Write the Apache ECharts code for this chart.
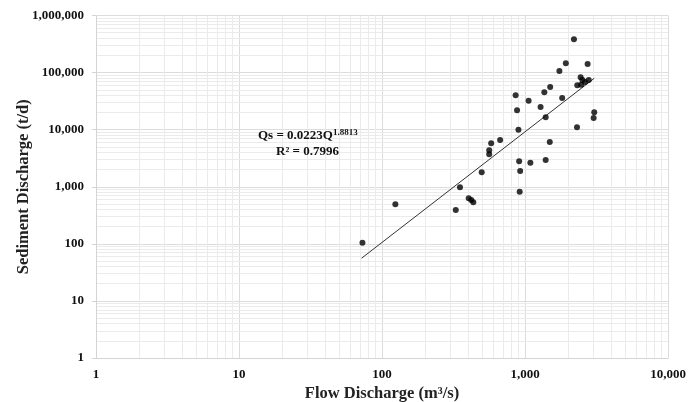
<!DOCTYPE html>
<html><head><meta charset="utf-8">
<script src="https://cdn.jsdelivr.net/npm/echarts@6/dist/echarts.min.js"></script>
<style>html,body{margin:0;padding:0;background:#fff}#c{width:700px;height:402px}</style>
</head><body><div id="c"></div>
<script>
// Observed points (Flow discharge m3/s, Sediment discharge t/d)
const flow = [2200,1930,1740,2740,2450,2520,2320,2470,2630,2790,1500,1365,860,1060,1820,1285,880,1395,3050,3020,2310,900,670,580,562,562,1490,910,1090,1395,925,498,918,351,404,421,435,328,124,73];
const sediment = [383000,145500,106700,141600,82700,74100,60000,61400,68400,74100,55900,45200,40000,32200,35900,25000,21900,16500,20200,16000,11000,10000,6600,5780,4350,3710,6100,2800,2640,2940,1890,1800,820,980,630,588,536,393,493,104];
// Trend line endpoints as drawn
const trendFlow = [72, 3050];
const trendSed = [56, 79500];
const xTicks = [1, 10, 100, 1000, 10000];
const yTicks = [1, 10, 100, 1000, 10000, 100000, 1000000];

const pts = flow.map((f, i) => [f, sediment[i]]);
const trend = trendFlow.map((f, i) => [f, trendSed[i]]);
function minorLines(ticks) {
  const out = [];
  for (let i = 0; i < ticks.length - 1; i++)
    for (let k = 2; k <= 9; k++) out.push(ticks[i] * k);
  return out;
}
const minorX = minorLines(xTicks);
const minorY = minorLines(yTicks);
const fmt = v => Number(v).toLocaleString('en-US');
const font = '"Liberation Serif", "Times New Roman", serif';

const chart = echarts.init(document.getElementById('c'), null, {renderer: 'canvas'});
chart.setOption({
  animation: false,
  backgroundColor: '#fff',
  grid: {left: 96, right: 32, top: 15.5, bottom: 44, containLabel: false, outerBoundsMode: 'none'},
  xAxis: {
    type: 'log', logBase: 10, min: 1, max: 10000,
    name: 'Flow Discharge (m³/s)', nameLocation: 'middle', nameGap: 27, nameMoveOverlap: false,
    nameTextStyle: {fontFamily: font, fontWeight: 'bold', fontSize: 16.5, color: '#222'},
    axisLine: {lineStyle: {color: '#d4d4d4'}},
    axisTick: {show: false},
    axisLabel: {formatter: fmt, fontFamily: font, fontWeight: 'bold', fontSize: 13, color: '#111', margin: 10},
    splitLine: {show: true, lineStyle: {color: '#dcdcdc', width: 1}}
  },
  yAxis: {
    type: 'log', logBase: 10, min: 1, max: 1000000,
    name: 'Sediment Discharge (t/d)', nameLocation: 'middle', nameGap: 64, nameRotate: 90, nameMoveOverlap: false,
    nameTextStyle: {fontFamily: font, fontWeight: 'bold', fontSize: 16.5, color: '#222'},
    axisLine: {show: true, lineStyle: {color: '#d4d4d4'}},
    axisTick: {show: true, length: 4, lineStyle: {color: '#d4d4d4'}},
    axisLabel: {formatter: fmt, fontFamily: font, fontWeight: 'bold', fontSize: 13, color: '#111', margin: 12},
    splitLine: {show: true, lineStyle: {color: '#dcdcdc', width: 1}}
  },
  series: [
    {
      type: 'line', data: [], silent: true, z: 0,
      markLine: {
        silent: true, symbol: 'none', animation: false, z: 0,
        label: {show: false},
        lineStyle: {color: '#ebebeb', width: 1, type: 'solid'},
        data: minorX.map(v => ({xAxis: v})).concat(minorY.map(v => ({yAxis: v})))
      }
    },
    {
      type: 'line', data: trend, symbol: 'none', silent: true, z: 3,
      lineStyle: {color: '#333', width: 1}
    },
    {
      type: 'scatter', data: pts, symbol: 'circle', symbolSize: 6, z: 4,
      itemStyle: {color: '#000'}
    }
  ],
  graphic: [
    {
      type: 'text', left: 258, top: 128, z: 10,
      style: {
        text: '{b|Qs = 0.0223Q}{s|1.8813}',
        rich: {
          b: {fontFamily: font, fontWeight: 'bold', fontSize: 13, fill: '#111'},
          s: {fontFamily: font, fontWeight: 'bold', fontSize: 9, fill: '#111', verticalAlign: 'top', padding: [0,0,6,0]}
        }
      }
    },
    {
      type: 'text', left: 276, top: 145, z: 10,
      style: {text: 'R² = 0.7996', fontFamily: font, fontWeight: 'bold', fontSize: 13, fill: '#111'}
    }
  ]
});
</script></body></html>
